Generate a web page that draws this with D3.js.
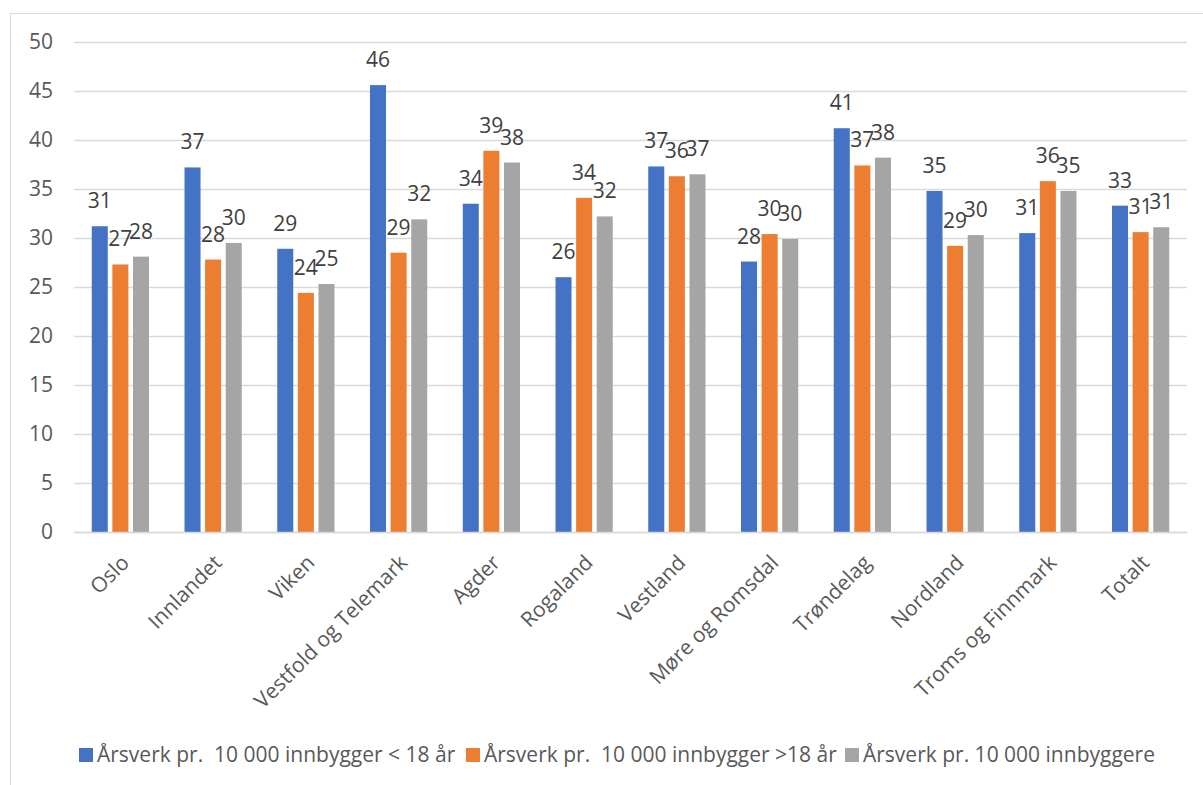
<!DOCTYPE html>
<html>
<head>
<meta charset="utf-8">
<script src="https://cdn.jsdelivr.net/npm/d3@7"></script>
<style>
  html, body { margin: 0; padding: 0; background: #fff; }
  svg { display: block; font-family: "Open Sans", "Noto Sans", sans-serif; }
</style>
</head>
<body>
<svg id="chart" width="1203" height="785"></svg>
<script>
const categories = ["Oslo", "Innlandet", "Viken", "Vestfold og Telemark", "Agder", "Rogaland",
  "Vestland", "Møre og Romsdal", "Trøndelag", "Nordland", "Troms og Finnmark", "Totalt"];
const seriesNames = [
  "Årsverk pr.  10 000 innbygger < 18 år",
  "Årsverk pr.  10 000 innbygger >18 år",
  "Årsverk pr. 10 000 innbyggere"
];
const under18 = [31.2, 37.2, 28.9, 45.6, 33.5, 26.0, 37.3, 27.6, 41.2, 34.8, 30.5, 33.3];
const over18  = [27.3, 27.8, 24.4, 28.5, 38.9, 34.1, 36.3, 30.4, 37.4, 29.2, 35.8, 30.6];
const total   = [28.1, 29.5, 25.3, 31.9, 37.7, 32.2, 36.5, 29.9, 38.2, 30.3, 34.8, 31.1];
const yTicks  = [0, 5, 10, 15, 20, 25, 30, 35, 40, 45, 50];
const colors  = ["#4472C4", "#ED7D31", "#A5A5A5"];

const seriesValues = [under18, over18, total];
const FS = "21px";
const FF = '"Open Sans", "Noto Sans", sans-serif';

const svg = d3.select("#chart");
const plot = { left: 74, right: 1187, top: 42, bottom: 532 };

// chart frame
svg.append("rect").attr("x", 10.5).attr("y", 13.5).attr("width", 1200).attr("height", 790)
  .attr("fill", "#fff").attr("stroke", "#d9d9d9").attr("stroke-width", 1);

const x0 = d3.scaleBand().domain(categories).range([plot.left, plot.right]).paddingInner(0).paddingOuter(0);
const x1 = d3.scaleBand().domain(d3.range(3)).range([0, x0.bandwidth()]).paddingInner(0.223).paddingOuter(0.862);
const y = d3.scaleLinear().domain([0, 50]).range([plot.bottom, plot.top]);

// gridlines
svg.append("g").selectAll("line").data(yTicks).join("line")
  .attr("x1", plot.left).attr("x2", plot.right)
  .attr("y1", d => Math.round(y(d)) + 0.5).attr("y2", d => Math.round(y(d)) + 0.5)
  .attr("stroke", "#d9d9d9").attr("stroke-width", 1.5);

// y axis labels
const yAxis = d3.axisLeft(y).tickValues(yTicks).tickSize(0).tickPadding(0);
const gy = svg.append("g").attr("transform", `translate(53,0)`).call(yAxis);
gy.attr("font-size", null).attr("font-family", null);
gy.select(".domain").remove();
gy.selectAll("text").attr("fill", "#595959").style("font-size", FS).style("font-family", FF);

// bars
const groups = svg.append("g").selectAll("g").data(categories).join("g")
  .attr("transform", d => `translate(${x0(d)},0)`);
groups.selectAll("rect").data((c, i) => seriesValues.map((s, k) => ({ k, v: s[i] })))
  .join("rect")
  .attr("x", d => x1(d.k)).attr("width", x1.bandwidth())
  .attr("y", d => y(d.v)).attr("height", d => y(0) - y(d.v))
  .attr("fill", d => colors[d.k]);

// data labels
groups.selectAll("text.lbl").data((c, i) => seriesValues.map((s, k) => ({ k, v: s[i] })))
  .join("text").attr("class", "lbl")
  .attr("x", d => x1(d.k) + x1.bandwidth() / 2)
  .attr("y", d => y(d.v) - 18)
  .attr("text-anchor", "middle")
  .attr("fill", "#404040").style("font-size", FS).style("font-family", FF)
  .text(d => Math.round(d.v));

// x axis
const xAxis = d3.axisBottom(x0).tickSize(0).tickPadding(0);
const gx = svg.append("g").attr("transform", `translate(0,${plot.bottom})`).call(xAxis);
gx.attr("font-size", null).attr("font-family", null);
gx.select(".domain").attr("stroke", "#d9d9d9").attr("stroke-width", 1.5);
gx.selectAll(".tick text")
  .attr("text-anchor", "end").attr("dy", 0).attr("y", 0)
  .attr("transform", "translate(10,32) rotate(-45)")
  .attr("fill", "#595959").style("font-size", FS).style("font-family", FF);

// legend
const legendX = [79, 466, 845];
const leg = svg.append("g");
seriesNames.forEach((name, k) => {
  const g = leg.append("g").attr("transform", `translate(${legendX[k]},0)`);
  g.append("rect").attr("x", 0).attr("y", 748).attr("width", 14).attr("height", 14).attr("fill", colors[k]);
  g.append("text").attr("x", 18).attr("y", 762).attr("fill", "#595959")
    .style("font-size", FS).style("font-family", FF)
    .style("white-space", "pre").attr("xml:space", "preserve").text(name);
});
</script>
</body>
</html>
